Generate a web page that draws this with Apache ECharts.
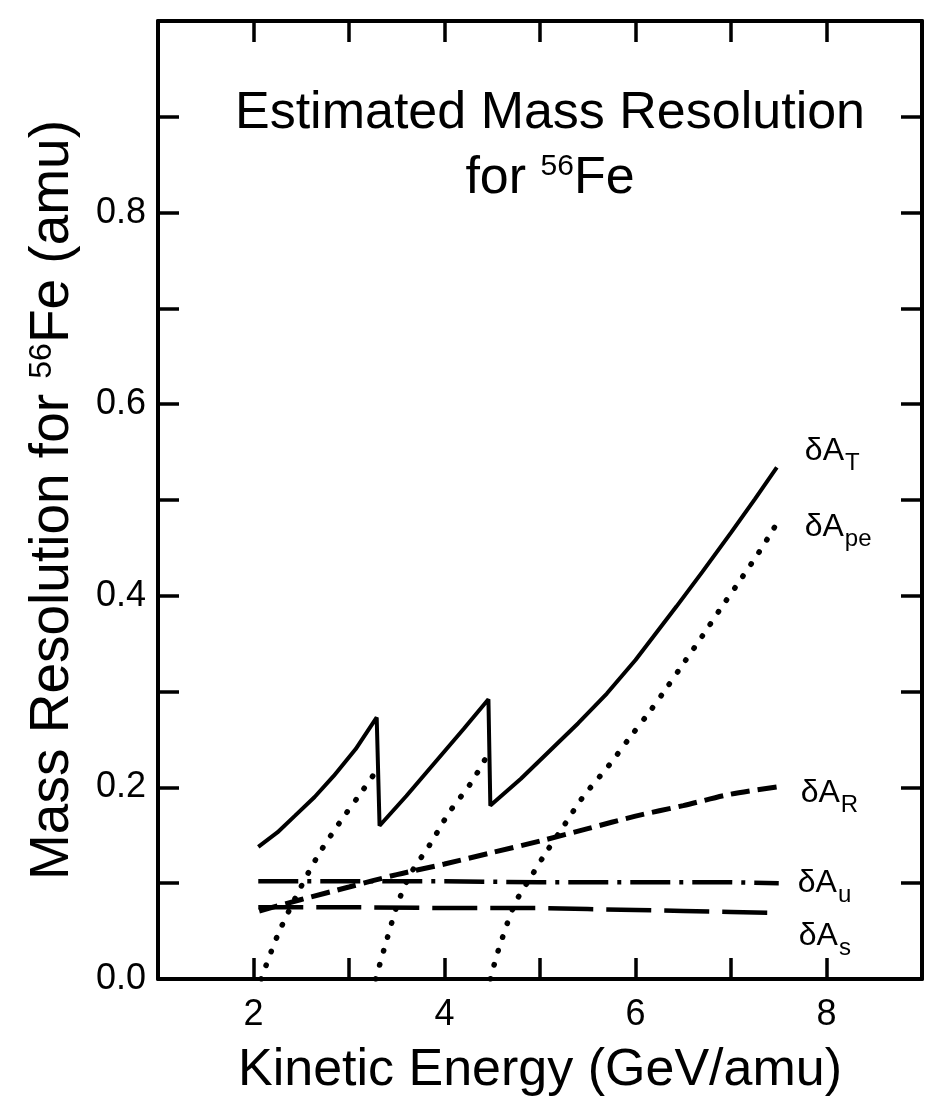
<!DOCTYPE html>
<html>
<head>
<meta charset="utf-8">
<script src="https://cdn.jsdelivr.net/npm/echarts@6/dist/echarts.min.js"></script>
<style>
  html, body { margin: 0; padding: 0; background: #fff; }
  #chart { width: 928px; height: 1104px; }
</style>
</head>
<body>
<div id="chart"></div>
<script>
// tick labels shown on the axes
const xLabelTicks = [2, 4, 6, 8];
const yLabelTicks = [0, 0.2, 0.4, 0.6, 0.8];

// δA_T : total (solid), drops at the two thresholds
const dAT = [[2.05, 0.138], [2.25, 0.153], [2.43, 0.170], [2.64, 0.190], [2.84, 0.212], [3.07, 0.240], [3.29, 0.273],
  [3.32, 0.160], [3.6, 0.191], [3.9, 0.226], [4.2, 0.261], [4.46, 0.292],
  [4.48, 0.181], [4.8, 0.209], [5.1, 0.238], [5.4, 0.267], [5.7, 0.298], [6.0, 0.333],
  [6.43, 0.389], [6.7, 0.425], [7.0, 0.466], [7.25, 0.501], [7.48, 0.534]];

// δA_pe : photoelectron statistics (dotted), three branches
const dApe1 = [[2.08, 0], [2.25, 0.045], [2.445, 0.086], [2.67, 0.128], [2.90, 0.163], [3.13, 0.195], [3.25, 0.212]];
const dApe2 = [[3.28, 0], [3.39, 0.039], [3.515, 0.080], [3.64, 0.109], [3.845, 0.140], [4.05, 0.174], [4.28, 0.205], [4.44, 0.232]];
const dApe3 = [[4.48, 0], [4.57, 0.032], [4.74, 0.079], [4.92, 0.109], [5.05, 0.130], [5.25, 0.160],
  [5.45, 0.190], [5.73, 0.224], [5.94, 0.252], [6.14, 0.278], [6.32, 0.303], [6.52, 0.332],
  [6.70, 0.358], [6.88, 0.385], [7.06, 0.411], [7.29, 0.445], [7.44, 0.469], [7.52, 0.483]];

// δA_R (dashed)
const dAR = [[2.06, 0.071], [2.5, 0.083], [3.0, 0.096], [3.5, 0.109], [4.0, 0.120], [4.5, 0.132],
  [5.0, 0.144], [5.5, 0.157], [6.0, 0.170], [6.5, 0.181], [7.0, 0.193], [7.52, 0.201]];

// δA_u (dash-dot)
const dAu = [[2.05, 0.102], [3.0, 0.102], [4.0, 0.102], [5.0, 0.101], [6.0, 0.101], [7.0, 0.101], [7.5, 0.100]];

// δA_s (long dash)
const dAs = [[2.05, 0.075], [3.0, 0.075], [4.0, 0.074], [5.0, 0.074], [5.5, 0.073], [6.0, 0.072],
  [6.5, 0.071], [7.0, 0.070], [7.5, 0.069]];

const FONT = 'Liberation Sans';
const INK = '#000';

const chart = echarts.init(document.getElementById('chart'), null, { renderer: 'canvas' });

// rich styles for the δA labels (subscript pushed down through line heights)
const labelRich = {
  m: { fontFamily: FONT, fontSize: 32, lineHeight: 32, color: INK, verticalAlign: 'top' },
  s: { fontFamily: FONT, fontSize: 24, lineHeight: 40, color: INK, verticalAlign: 'bottom', padding: [0, 0, 0, 1] }
};
function endLabel(sub, dx, dy) {
  return {
    show: true,
    formatter: '{m|δA}{s|' + sub + '}',
    offset: [dx, dy],
    rich: labelRich
  };
}

const frameLine = { lineStyle: { color: INK, width: 4 } };
const innerTick = { show: true, inside: true, length: 21, lineStyle: { color: INK, width: 3.5 } };

const option = {
  backgroundColor: '#fff',
  animation: false,
  title: {
    text: '{t|Estimated Mass Resolution}\n{t2|for }{sup|56}{t2|Fe}',
    left: 550,
    top: 84,
    textAlign: 'center',
    padding: 0,
    textStyle: {
      fontWeight: 'normal',
      rich: {
        t: { fontFamily: FONT, fontSize: 52, fontWeight: 'normal', lineHeight: 60, color: INK },
        t2: { fontFamily: FONT, fontSize: 52, fontWeight: 'normal', lineHeight: 70, color: INK },
        sup: { fontFamily: FONT, fontSize: 30, fontWeight: 'normal', lineHeight: 30, color: INK, verticalAlign: 'top', padding: [8, 0, 0, 0] }
      }
    }
  },
  grid: { left: 158, right: 6, top: 21, bottom: 122 },
  xAxis: [
    {
      type: 'value', min: 1, max: 9, interval: 1, position: 'bottom',
      axisLine: { onZero: false, ...frameLine },
      axisTick: innerTick,
      splitLine: { show: false },
      axisLabel: {
        margin: 18, fontFamily: FONT, fontSize: 36, color: INK,
        formatter: v => (xLabelTicks.includes(v) ? String(v) : '')
      },
      name: 'Kinetic Energy (GeV/amu)',
      nameLocation: 'middle',
      nameGap: 64,
      nameTextStyle: { fontFamily: FONT, fontSize: 52, lineHeight: 56, color: INK }
    },
    {
      type: 'value', min: 1, max: 9, interval: 1, position: 'top',
      axisLine: { onZero: false, ...frameLine },
      axisTick: innerTick,
      splitLine: { show: false },
      axisLabel: { show: false }
    }
  ],
  yAxis: [
    {
      type: 'value', min: 0, max: 1, interval: 0.1, position: 'left',
      axisLine: { show: true, onZero: false, ...frameLine },
      axisTick: innerTick,
      splitLine: { show: false },
      axisLabel: {
        margin: 12, fontFamily: FONT, fontSize: 36, color: INK,
        formatter: v => {
          const r = Math.round(v * 10) / 10;
          return yLabelTicks.includes(r) ? r.toFixed(1) : '';
        }
      },
      name: '{m|Mass Resolution for }{sup|56}{m|Fe (amu)}',
      nameLocation: 'middle',
      nameGap: 76,
      nameTextStyle: {
        rich: {
          m: { fontFamily: FONT, fontSize: 55, lineHeight: 58, color: INK },
          sup: { fontFamily: FONT, fontSize: 32, lineHeight: 32, color: INK, verticalAlign: 'top', padding: [2, 0, 0, 0] }
        }
      }
    },
    {
      type: 'value', min: 0, max: 1, interval: 0.1, position: 'right',
      axisLine: { show: true, onZero: false, ...frameLine },
      axisTick: innerTick,
      splitLine: { show: false },
      axisLabel: { show: false }
    }
  ],
  series: [
    {
      name: 'δA_T', type: 'line', data: dAT, symbol: 'none',
      lineStyle: { color: INK, width: 4 },
      endLabel: endLabel('T', 20, -12)
    },
    {
      name: 'δA_pe', type: 'line', data: dApe1, symbol: 'none', smooth: 0.3,
      lineStyle: { color: INK, width: 5.5, type: [0.5, 14], cap: 'round' }
    },
    {
      name: 'δA_pe', type: 'line', data: dApe2, symbol: 'none', smooth: 0.3,
      lineStyle: { color: INK, width: 5.5, type: [0.5, 14], cap: 'round' }
    },
    {
      name: 'δA_pe', type: 'line', data: dApe3, symbol: 'none', smooth: 0.3,
      lineStyle: { color: INK, width: 5.5, type: [0.5, 14], cap: 'round' },
      endLabel: endLabel('pe', 16, 15)
    },
    {
      name: 'δA_R', type: 'line', data: dAR, symbol: 'none', smooth: 0.3,
      lineStyle: { color: INK, width: 5, type: [19, 8] },
      endLabel: endLabel('R', 12, 11)
    },
    {
      name: 'δA_u', type: 'line', data: dAu, symbol: 'none',
      lineStyle: { color: INK, width: 4.5, type: [40, 9, 4, 9] },
      endLabel: endLabel('u', 11, 4)
    },
    {
      name: 'δA_s', type: 'line', data: dAs, symbol: 'none',
      lineStyle: { color: INK, width: 4.5, type: [45, 13] },
      endLabel: endLabel('s', 12, 27)
    }
  ]
};

chart.setOption(option);
</script>
</body>
</html>
